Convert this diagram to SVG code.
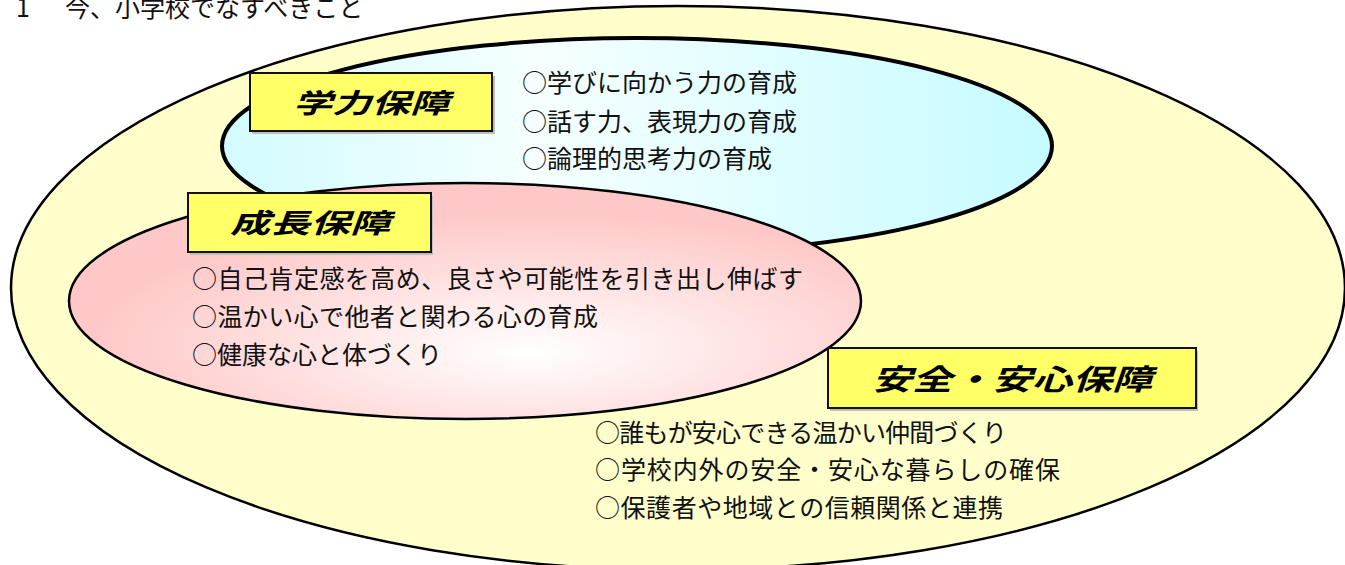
<svg xmlns="http://www.w3.org/2000/svg" width="1345" height="565" viewBox="0 0 1345 565">
<defs>
<style>
.body{font-family:"Noto Sans CJK JP","Noto Sans CJK SC",sans-serif;font-size:25px;fill:#111;}
.lab{font-family:"Noto Sans CJK JP","Noto Sans CJK SC",sans-serif;font-weight:700;font-style:italic;fill:#000;}
.box{fill:#ffff66;stroke:#111;stroke-width:2;}
.shadow{fill:#bdbdbd;}
</style>
<linearGradient id="gBlue" x1="0" y1="0" x2="1" y2="0">
<stop offset="0" stop-color="#d2fbff"/>
<stop offset="0.38" stop-color="#f6ffff"/>
<stop offset="1" stop-color="#c6fbff"/>
</linearGradient>
<radialGradient id="gPink" cx="0.58" cy="0.68" r="0.55" fx="0.58" fy="0.72">
<stop offset="0" stop-color="#ffffff"/>
<stop offset="1" stop-color="#ffc8c8"/>
</radialGradient>
</defs>
<rect x="0" y="0" width="1345" height="565" fill="#ffffff"/>
<text id="title" class="body" x="16" y="17"><tspan>1</tspan><tspan x="65">今、小学校でなすべきこと</tspan></text>
<g id="outer">
<ellipse cx="678" cy="288" rx="667" ry="282" fill="#ffffcc" stroke="#000" stroke-width="2.5"/>
</g>
<g id="gakuryoku">
<ellipse cx="637" cy="146" rx="415" ry="108" fill="url(#gBlue)" stroke="#000" stroke-width="4"/>
<text class="body" x="522" y="92" textLength="275">○学びに向かう力の育成</text>
<text class="body" x="522" y="131" textLength="275">○話す力、表現力の育成</text>
<text class="body" x="522" y="168" textLength="250">○論理的思考力の育成</text>
</g>
<g id="seicho">
<ellipse cx="465" cy="301" rx="396" ry="118" fill="url(#gPink)" stroke="#000" stroke-width="2.5"/>
<text class="body" x="192" y="288" textLength="611">○自己肯定感を高め、良さや可能性を引き出し伸ばす</text>
<text class="body" x="192" y="326" textLength="406">○温かい心で他者と関わる心の育成</text>
<text class="body" x="192" y="364" textLength="250">○健康な心と体づくり</text>
</g>
<g id="anzen-text">
<text class="body" x="595" y="442" textLength="412">○誰もが安心できる温かい仲間づくり</text>
<text class="body" x="595" y="479" textLength="465">○学校内外の安全・安心な暮らしの確保</text>
<text class="body" x="595" y="517" textLength="408">○保護者や地域との信頼関係と連携</text>
</g>
<g id="label-gakuryoku">
<rect class="shadow" x="252" y="76" width="243" height="58"/>
<rect class="box" x="250" y="73" width="242" height="58"/>
<text class="lab" x="293" y="113" font-size="27" textLength="156" lengthAdjust="spacingAndGlyphs">学力保障</text>
</g>
<g id="label-seicho">
<rect class="shadow" x="190" y="196" width="243" height="59"/>
<rect class="box" x="188" y="193" width="243" height="59"/>
<text class="lab" x="230" y="233" font-size="27" textLength="160" lengthAdjust="spacingAndGlyphs">成長保障</text>
</g>
<g id="label-anzen">
<rect class="shadow" x="830" y="351" width="368" height="60"/>
<rect class="box" x="828" y="348" width="368" height="60"/>
<text class="lab" x="872" y="390" font-size="29" textLength="280" lengthAdjust="spacingAndGlyphs">安全・安心保障</text>
</g>
<g id="connectors"></g>
</svg>
